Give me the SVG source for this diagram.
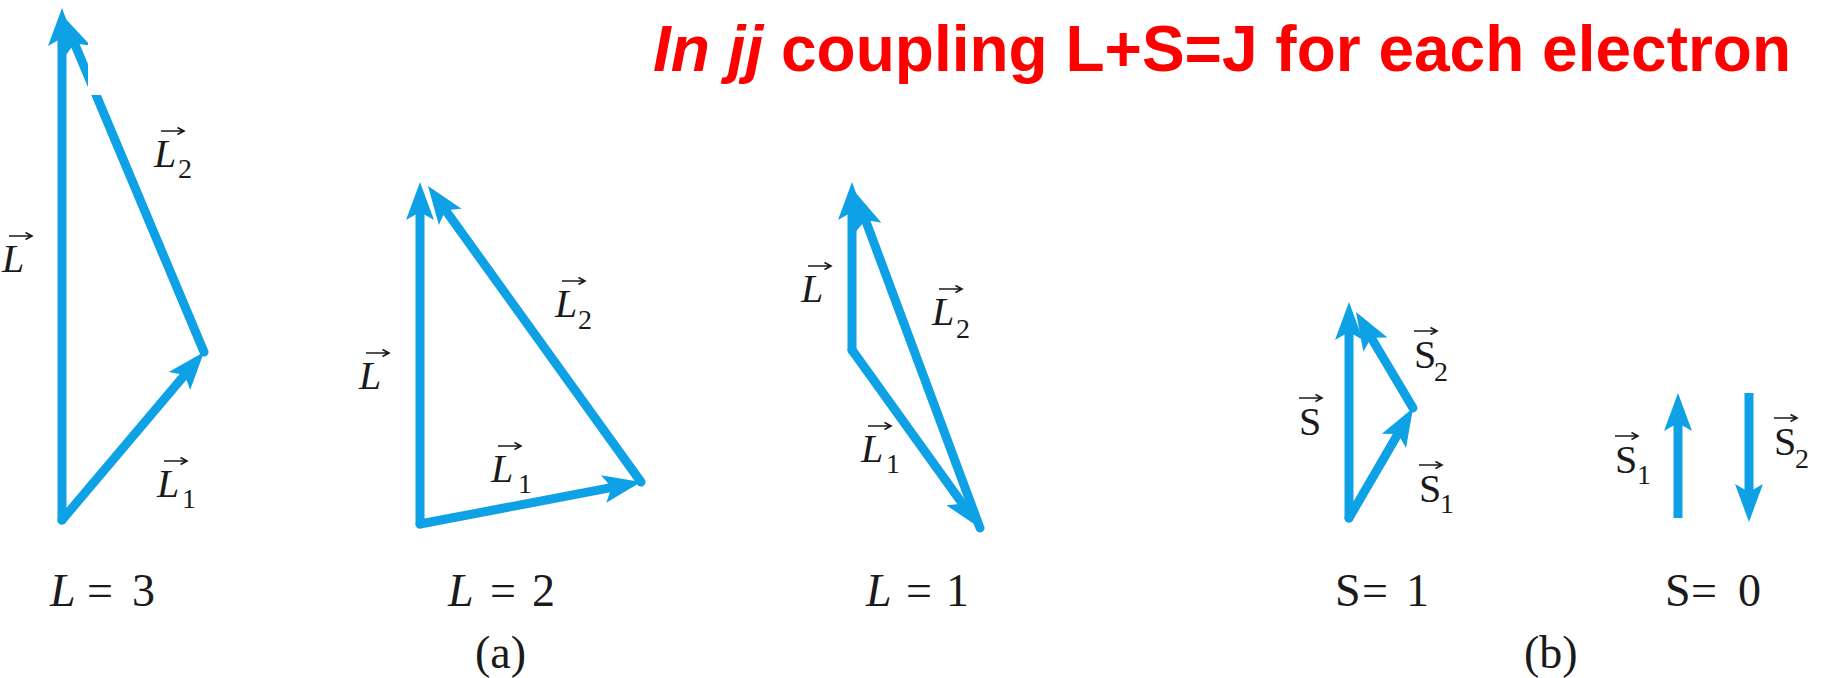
<svg xmlns="http://www.w3.org/2000/svg" xmlns:xlink="http://www.w3.org/1999/xlink" width="1830" height="678" viewBox="0 0 1830 678">
<defs>
<style>
.v{stroke:#0EA1E6;stroke-width:9;fill:none;stroke-linecap:round;marker-end:url(#ah)}
.vb{stroke-linecap:butt}
.lab{font-family:"Liberation Serif","Times New Roman",serif;fill:#1a1a1a}
.it{font-style:italic}
.big{font-size:46px}
.vl{font-size:40px}
.sub{font-size:28px}
.title{font-family:"Liberation Sans",Arial,sans-serif;font-weight:bold;font-size:64px;fill:#FF0000}
</style>
<marker id="ah" markerUnits="userSpaceOnUse" viewBox="-42 -16 44 32" markerWidth="44" markerHeight="32" refX="-20" refY="0" orient="auto">
<path d="M0,0 L-38,-14 L-30,0 L-38,14 Z" fill="#0EA1E6"/>
</marker>
<g id="vec"><path d="M0,0 H22 M16.5,-3.5 L23,0 L16.5,3.5" fill="none" stroke="#1a1a1a" stroke-width="1.6"/></g>
</defs>
<rect width="1830" height="678" fill="#FFFFFF"/>

<g id="title"><text class="title" x="653" y="71"><tspan font-style="italic">In jj</tspan> coupling L+S=J for each electron</text></g>

<g id="connectors">
<!-- L = 3 -->
<line class="v" x1="62" y1="520" x2="62" y2="28"/>
<line class="v" x1="62" y1="520" x2="191.1" y2="367.3"/>
<line class="v" x1="204" y1="352" x2="70.7" y2="34.4"/>
<!-- L = 2 -->
<line class="v" x1="420" y1="524" x2="420" y2="202"/>
<line class="v" x1="420" y1="524" x2="621.4" y2="485.7"/>
<line class="v" x1="641" y1="482" x2="439.7" y2="202.2"/>
<!-- L = 1 -->
<line class="v" x1="852" y1="350" x2="852" y2="202"/>
<line class="v" x1="852" y1="350" x2="968.3" y2="511.8"/>
<line class="v" x1="980" y1="528" x2="862" y2="210.7"/>
<!-- S = 1 -->
<line class="v" x1="1349" y1="518" x2="1349" y2="322"/>
<line class="v" x1="1349" y1="518" x2="1403" y2="425.3"/>
<line class="v" x1="1413" y1="408" x2="1366.2" y2="329.2"/>
<!-- S = 0 -->
<line class="v vb" x1="1678" y1="518" x2="1678" y2="413"/>
<line class="v vb" x1="1749" y1="393" x2="1749" y2="502"/>
</g>

<rect id="mask" x="88" y="0" width="30" height="95" fill="#FFFFFF"/>

<g id="diagram-L3">
<g id="lab-L-a"><use xlink:href="#vec" x="9" y="236"/><text class="lab it vl" x="2" y="272">L</text></g>
<g id="lab-L2-a"><use xlink:href="#vec" x="161" y="131"/><text class="lab vl" x="154" y="167"><tspan class="it">L</tspan><tspan class="sub" x="178" y="178">2</tspan></text></g>
<g id="lab-L1-a"><use xlink:href="#vec" x="164" y="461"/><text class="lab vl" x="157" y="497"><tspan class="it">L</tspan><tspan class="sub" x="182" y="508">1</tspan></text></g>
<g id="cap-L3"><text class="lab big" y="606"><tspan class="it" x="50">L</tspan><tspan x="87">=</tspan><tspan x="132">3</tspan></text></g>
</g>

<g id="diagram-L2">
<g id="lab-L-b"><use xlink:href="#vec" x="366" y="353"/><text class="lab it vl" x="359" y="389">L</text></g>
<g id="lab-L2-b"><use xlink:href="#vec" x="562" y="281"/><text class="lab vl" x="555" y="317"><tspan class="it">L</tspan><tspan class="sub" x="578" y="329">2</tspan></text></g>
<g id="lab-L1-b"><use xlink:href="#vec" x="498" y="446"/><text class="lab vl" x="491" y="482"><tspan class="it">L</tspan><tspan class="sub" x="518" y="493">1</tspan></text></g>
<g id="cap-L2"><text class="lab big" y="606"><tspan class="it" x="448">L</tspan><tspan x="490">=</tspan><tspan x="532">2</tspan></text></g>
<g id="cap-a"><text class="lab big" x="475" y="668">(a)</text></g>
</g>

<g id="diagram-L1">
<g id="lab-L-c"><use xlink:href="#vec" x="808" y="266"/><text class="lab it vl" x="801" y="302">L</text></g>
<g id="lab-L2-c"><use xlink:href="#vec" x="939" y="289"/><text class="lab vl" x="932" y="325"><tspan class="it">L</tspan><tspan class="sub" x="956" y="338">2</tspan></text></g>
<g id="lab-L1-c"><use xlink:href="#vec" x="868" y="426"/><text class="lab vl" x="861" y="462"><tspan class="it">L</tspan><tspan class="sub" x="886" y="473">1</tspan></text></g>
<g id="cap-L1"><text class="lab big" y="606"><tspan class="it" x="866">L</tspan><tspan x="906">=</tspan><tspan x="946">1</tspan></text></g>
</g>

<g id="diagram-S1">
<g id="lab-S-d"><use xlink:href="#vec" x="1299" y="398"/><text class="lab vl" x="1299" y="435">S</text></g>
<g id="lab-S2-d"><use xlink:href="#vec" x="1414" y="331"/><text class="lab vl" x="1414" y="368">S<tspan class="sub" x="1434" y="381">2</tspan></text></g>
<g id="lab-S1-d"><use xlink:href="#vec" x="1419" y="465"/><text class="lab vl" x="1419" y="502">S<tspan class="sub" x="1440" y="513">1</tspan></text></g>
<g id="cap-S1"><text class="lab big" y="606"><tspan x="1335">S</tspan><tspan x="1362">=</tspan><tspan x="1406">1</tspan></text></g>
</g>

<g id="diagram-S0">
<g id="lab-S1-e"><use xlink:href="#vec" x="1615" y="436"/><text class="lab vl" x="1615" y="473">S<tspan class="sub" x="1637" y="484">1</tspan></text></g>
<g id="lab-S2-e"><use xlink:href="#vec" x="1774" y="418"/><text class="lab vl" x="1774" y="455">S<tspan class="sub" x="1795" y="468">2</tspan></text></g>
<g id="cap-S0"><text class="lab big" y="606"><tspan x="1665">S</tspan><tspan x="1691">=</tspan><tspan x="1738">0</tspan></text></g>
<g id="cap-b"><text class="lab big" x="1524" y="668">(b)</text></g>
</g>
</svg>
